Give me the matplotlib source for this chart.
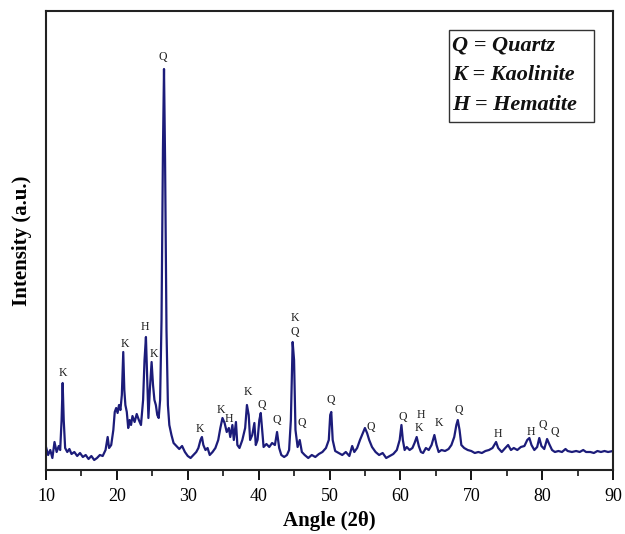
import matplotlib
matplotlib.use("Agg")
import matplotlib.pyplot as plt
from matplotlib.patches import Rectangle
from matplotlib.ticker import MultipleLocator

# ---- data (2theta in degrees, intensity in a.u.) ----
angle = [10.0, 10.3, 10.6, 10.9, 11.2, 11.5, 11.8, 12.0, 12.2, 12.35, 12.5, 12.7,
         13.0, 13.3, 13.6, 14.0, 14.4, 14.8, 15.2, 15.6, 16.0, 16.4, 16.8, 17.2,
         17.6, 18.0, 18.4, 18.7, 18.9, 19.2, 19.5, 19.7, 19.9, 20.1, 20.3, 20.5,
         20.7, 20.9, 21.05, 21.2, 21.4, 21.6, 21.8, 22.0, 22.2, 22.5, 22.8, 23.1,
         23.4, 23.7, 23.9, 24.1, 24.3, 24.45, 24.65, 24.9, 25.1, 25.3, 25.5, 25.7,
         25.9, 26.1, 26.3, 26.5, 26.65, 26.8, 27.0, 27.2, 27.4, 27.7, 28.0, 28.4,
         28.8, 29.2, 29.6, 30.0, 30.4, 30.8, 31.2, 31.5, 31.8, 32.0, 32.2, 32.5,
         32.8, 33.1, 33.5, 33.9, 34.3, 34.6, 34.9, 35.2, 35.5, 35.8, 36.0, 36.3,
         36.5, 36.8, 37.0, 37.3, 37.7, 38.1, 38.35, 38.6, 38.8, 39.1, 39.4, 39.6,
         39.85, 40.1, 40.3, 40.5, 40.7, 41.1, 41.5, 41.9, 42.3, 42.6, 42.9, 43.2,
         43.6, 44.0, 44.3, 44.55, 44.8, 45.0, 45.2, 45.5, 45.8, 46.1, 46.5, 47.0,
         47.5, 48.0, 48.5, 49.0, 49.5, 49.9, 50.1, 50.25, 50.45, 50.8, 51.3, 51.8,
         52.3, 52.8, 53.2, 53.5, 53.9, 54.3, 54.7, 55.0, 55.3, 55.6, 56.0, 56.5,
         57.0, 57.5, 58.0, 58.5, 59.0, 59.5, 59.9, 60.15, 60.35, 60.6, 60.9, 61.3,
         61.7, 62.0, 62.3, 62.6, 62.9, 63.2, 63.6, 64.0, 64.4, 64.8, 65.1, 65.4,
         65.8, 66.3, 66.8, 67.2, 67.6, 67.9, 68.1, 68.35, 68.6, 69.0, 69.5, 70.0,
         70.5, 71.0, 71.5, 72.0, 72.5, 73.0, 73.5, 73.8, 74.3, 74.8, 75.2, 75.6,
         76.0, 76.5, 77.0, 77.5, 77.9, 78.2, 78.5, 78.9, 79.3, 79.6, 79.9, 80.3,
         80.7, 81.0, 81.4, 81.8, 82.3, 82.8, 83.3, 83.6, 84.2, 84.8, 85.3, 85.8,
         86.2, 86.8, 87.3, 87.8, 88.3, 88.8, 89.3, 90.0]
intensity = [23, 15, 20, 12, 28, 18, 24, 20, 50, 87, 50, 22,
             18, 21, 16, 18, 14, 17, 13, 15, 11, 14, 10, 12,
             15, 14, 20, 33, 22, 25, 40, 58, 62, 57, 65, 60,
             75, 118, 80, 65, 58, 42, 50, 45, 54, 48, 56, 50,
             45, 70, 110, 133, 85, 52, 80, 108, 85, 70, 65, 55,
             52, 70, 150, 320, 401, 310, 140, 65, 45, 35, 27, 24,
             21, 24, 18, 14, 12, 15, 18, 22, 30, 33, 25, 20,
             22, 15, 18, 22, 30, 42, 52, 47, 38, 42, 33, 45,
             30, 48, 25, 22, 30, 42, 65, 55, 30, 35, 47, 25,
             30, 50, 57, 40, 23, 26, 23, 27, 25, 38, 22, 15,
             13, 15, 20, 50, 128, 110, 40, 23, 30, 18, 15, 12,
             15, 13, 16, 18, 22, 30, 55, 58, 30, 19, 17, 15,
             18, 14, 24, 18, 22, 30, 37, 42, 37, 30, 23, 18,
             15, 17, 12, 14, 16, 20, 30, 45, 30, 20, 23, 20,
             22, 27, 33, 24, 18, 17, 22, 20, 25, 35, 25, 18,
             20, 19, 21, 25, 33, 45, 50, 40, 25, 22, 20, 19,
             17, 18, 17, 19, 20, 22, 28, 22, 18, 22, 25, 20,
             22, 20, 23, 24, 30, 32, 25, 20, 23, 32, 24, 21,
             31, 26, 20, 18, 19, 18, 21, 19, 18, 19, 18, 20,
             18, 18, 17, 19, 18, 19, 18, 19]

peak_labels = ["K", "K", "H", "K", "Q", "K", "K", "H", "K", "Q", "Q", "K", "Q",
               "Q", "Q", "Q", "Q", "H", "K", "K", "Q", "H", "H", "Q", "Q"]
label_angle = [12.36, 21.1, 23.99, 25.26, 26.54, 31.77, 34.73, 35.87, 38.55, 40.49,
               42.58, 45.05, 45.05, 46.14, 50.24, 55.89, 60.28, 62.96, 62.58, 65.36,
               68.23, 73.70, 78.41, 80.06, 81.80]
label_int = [97, 126, 143, 116, 413, 41, 60, 51, 78, 65,
             50, 152, 138, 47, 70, 43, 53, 55, 42, 47,
             60, 36, 38, 45, 38]

legend_lines = ["Q = Quartz", "K = Kaolinite", "H = Hematite"]
x_ticks = [10, 20, 30, 40, 50, 60, 70, 80, 90]

# ---- figure ----
fig = plt.figure(figsize=(6.25, 5.34), dpi=100)
ax = fig.add_axes([46 / 625, 64 / 534, 567 / 625, 459 / 534])

ax.plot(angle, intensity, color="#1c1c7a", lw=1.6)
ax.set_xlim(10, 90)
ax.set_ylim(0, 459)

serif = ["Liberation Serif", "DejaVu Serif"]
for t, a, v in zip(peak_labels, label_angle, label_int):
    ax.text(a, v, t, ha="center", va="center", fontsize=8.5, family=serif, color="#1a1a1a")

ax.set_xticks(x_ticks)
ax.set_xticklabels([str(v) for v in x_ticks], family=serif, fontsize=13)
ax.xaxis.set_minor_locator(MultipleLocator(5))
ax.tick_params(axis="x", which="major", direction="out", length=7, width=1.3, pad=6)
ax.tick_params(axis="x", which="minor", direction="out", length=4, width=1.1)
ax.set_yticks([])
for s in ax.spines.values():
    s.set_linewidth(1.5)
    s.set_color("#222222")

ax.set_xlabel("Angle (2θ)", family=serif, fontsize=15, fontweight="bold", labelpad=4)
ax.set_ylabel("Intensity (a.u.)", family=serif, fontsize=15, fontweight="bold", labelpad=10)

# legend box
fig.patches.append(Rectangle((449 / 625, 1 - 121.7 / 534), 145 / 625, 92 / 534,
                             transform=fig.transFigure, fill=False, lw=1.0,
                             edgecolor="#333333"))
for i, line in enumerate(legend_lines):
    fig.text(452 / 625, 1 - (46 + 29.5 * i) / 534, line, ha="left", va="center",
             family=serif, fontsize=16, fontweight="bold", style="italic", color="#111111")

fig.savefig("out.png", dpi=100)
